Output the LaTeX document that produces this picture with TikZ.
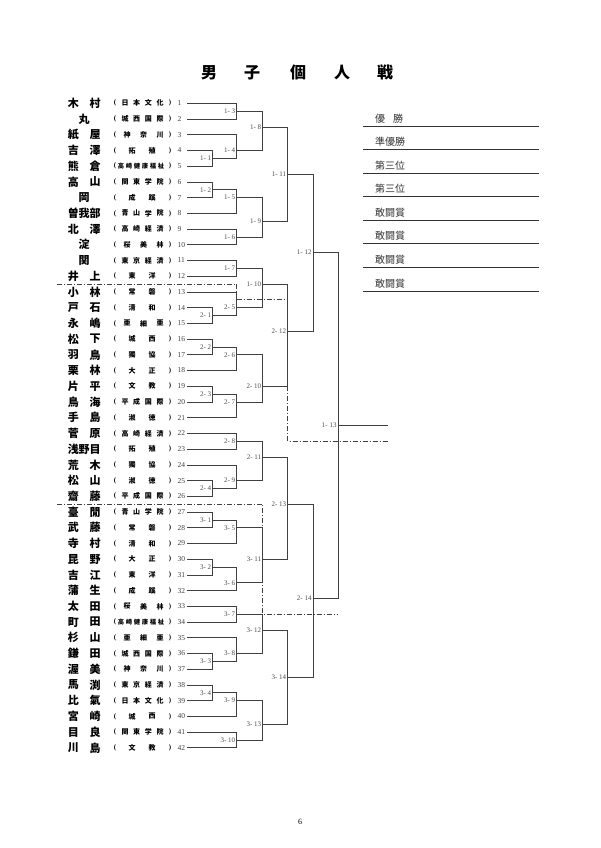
\documentclass[tikz,border=0pt]{standalone}
\usepackage{fontspec}
\setmainfont{Liberation Serif}
\newfontfamily\jp{Noto Sans CJK JP}
\tikzset{
  nm/.style={inner sep=0pt, font={\jp\bfseries\fontsize{11pt}{11pt}\selectfont}},
  sc/.style={inner sep=0pt, font={\jp\bfseries\fontsize{7pt}{7pt}\selectfont}},
  scsix/.style={inner sep=0pt, font={\jp\bfseries\fontsize{6.3pt}{6.3pt}\selectfont}},
  sccur/.style={sc},
  pr/.style={inner sep=0pt, font={\bfseries\fontsize{7pt}{7pt}\selectfont}},
  num/.style={inner sep=0pt, anchor=west, text=black!75, font={\fontsize{7.5pt}{7.5pt}\selectfont}},
  lbl/.style={inner sep=1.3pt, anchor=east, text=black!70, font={\fontsize{7pt}{7pt}\selectfont}},
  br/.style={draw=black!75, line width=0.7pt},
  dd/.style={draw=black!75, line width=0.7pt, dash pattern=on 5pt off 2pt on 1pt off 2pt},
  rl/.style={draw=black!80, line width=0.8pt},
  rt/.style={inner sep=0pt, anchor=west, text=black!80, font={\jp\fontsize{10pt}{10pt}\selectfont}},
  ttl/.style={inner sep=0pt, font={\jp\bfseries\fontsize{16pt}{16pt}\selectfont}},
}
\newcommand\ent[5]{%
  \ifcase#3\or\def\na{84}\def\nb{84}\or\def\na{73.3}\def\nb{95}\or\def\na{73.3}\def\nb{95}\fi
  \foreach \ch [count=\kk] in {#2} {\pgfmathsetmacro\xx{\na+(\kk-1)*(\nb-\na)/max(#3-1,1)}\node[nm] (n#1x\kk) at (\xx,#1) {\ch};}
  \tikzset{sccur/.style={sc}}%
  \ifcase#5\or\def\sa{143}\def\sb{143}\or\def\sa{132}\def\sb{152}\or\def\sa{127}\def\sb{160}\or\def\sa{125}\def\sb{160}\or\def\sa{121}\def\sb{162}\or\def\sa{121}\def\sb{161}\tikzset{sccur/.style={scsix}}\fi
  \foreach \ch [count=\kk] in {#4} {\pgfmathsetmacro\xx{\sa+(\kk-1)*(\sb-\sa)/max(#5-1,1)}\node[sccur] (s#1x\kk) at (\xx,#1) {\ch};}
  \node[pr] (lp#1) at (115,#1) {(};
  \node[pr] (rp#1) at (170,#1) {)};
  \node[num] (no#1) at (177.5,#1) {#1};
  \coordinate (e#1) at (187,#1);
}
\newcommand\mt[6]{%
  \draw[br] (#3) -- (#3 -| #5) -- (#4 -| #5) -- (#4);
  \path (#5) ++(0,#6) coordinate (m#1n#2);
  \node[lbl] (l#1n#2) at (m#1n#2) {#1- #2};
}
\begin{document}
\begin{tikzpicture}[x=1pt,y=-15.72pt]
\useasboundingbox (0,-5.571) rectangle (600,48.373);
\fill[white] (0,-5.571) rectangle (600,48.373);
% columns
\coordinate (X1) at (212.7,0);
\coordinate (X2) at (236.7,0);
\coordinate (X3) at (262.7,0);
\coordinate (X4) at (287.7,0);
\coordinate (X5) at (313,0);
\coordinate (X6) at (338,0);
\coordinate (F) at (388,0);
% title
\node[ttl] (t1) at (209,-0.947) {男};
\node[ttl] (t2) at (252,-0.947) {子};
\node[ttl] (t3) at (298,-0.947) {個};
\node[ttl] (t4) at (342,-0.947) {人};
\node[ttl] (t5) at (385,-0.947) {戦};
% entries
\ent{1}{木,村}{2}{日,本,文,化}{4}
\ent{2}{丸}{1}{城,西,国,際}{4}
\ent{3}{紙,屋}{2}{神,奈,川}{3}
\ent{4}{吉,澤}{2}{拓,殖}{2}
\ent{5}{熊,倉}{2}{高,崎,健,康,福,祉}{6}
\ent{6}{高,山}{2}{関,東,学,院}{4}
\ent{7}{岡}{1}{成,蹊}{2}
\ent{8}{曽,我,部}{3}{青,山,学,院}{4}
\ent{9}{北,澤}{2}{高,崎,経,済}{4}
\ent{10}{淀}{1}{桜,美,林}{3}
\ent{11}{関}{1}{東,京,経,済}{4}
\ent{12}{井,上}{2}{東,洋}{2}
\ent{13}{小,林}{2}{常,磐}{2}
\ent{14}{戸,石}{2}{清,和}{2}
\ent{15}{永,嶋}{2}{亜,細,亜}{3}
\ent{16}{松,下}{2}{城,西}{2}
\ent{17}{羽,鳥}{2}{獨,協}{2}
\ent{18}{栗,林}{2}{大,正}{2}
\ent{19}{片,平}{2}{文,教}{2}
\ent{20}{鳥,海}{2}{平,成,国,際}{4}
\ent{21}{手,島}{2}{淑,徳}{2}
\ent{22}{菅,原}{2}{高,崎,経,済}{4}
\ent{23}{浅,野,目}{3}{拓,殖}{2}
\ent{24}{荒,木}{2}{獨,協}{2}
\ent{25}{松,山}{2}{淑,徳}{2}
\ent{26}{齋,藤}{2}{平,成,国,際}{4}
\ent{27}{臺,閒}{2}{青,山,学,院}{4}
\ent{28}{武,藤}{2}{常,磐}{2}
\ent{29}{寺,村}{2}{清,和}{2}
\ent{30}{昆,野}{2}{大,正}{2}
\ent{31}{吉,江}{2}{東,洋}{2}
\ent{32}{蒲,生}{2}{成,蹊}{2}
\ent{33}{太,田}{2}{桜,美,林}{3}
\ent{34}{町,田}{2}{高,崎,健,康,福,祉}{6}
\ent{35}{杉,山}{2}{亜,細,亜}{3}
\ent{36}{鎌,田}{2}{城,西,国,際}{4}
\ent{37}{渥,美}{2}{神,奈,川}{3}
\ent{38}{馬,渕}{2}{東,京,経,済}{4}
\ent{39}{比,氣}{2}{日,本,文,化}{4}
\ent{40}{宮,崎}{2}{城,西}{2}
\ent{41}{目,良}{2}{関,東,学,院}{4}
\ent{42}{川,島}{2}{文,教}{2}
% dash-dot block separators
\coordinate (dA) at (57,12.5);
\coordinate (dD) at (57,26.5);
\draw[dd] (dA) -- (X2 |- dA) -- (X2 |- e13);
\path (X2) ++(0,13.5) coordinate (dB1);
\draw[dd] (dB1) -- (dB1 -| X4);
\path (X4) ++(0,19) coordinate (dC1);
\path (X4) ++(0,22.5) coordinate (dC2);
\draw[dd] (dC1) -- (dC2) -- (dC2 -| F);
\path (X3) ++(0,33.5) coordinate (dD2);
\draw[dd] (dD) -- (dD -| X3) -- (dD2) -- (dD2 -| X6);
% bracket
\mt{1}{1}{e4}{e5}{X1}{4.5}
\mt{1}{2}{e6}{e7}{X1}{6.5}
\mt{1}{3}{e1}{e2}{X2}{1.5}
\mt{1}{4}{e3}{m1n1}{X2}{4}
\mt{1}{5}{m1n2}{e8}{X2}{7}
\mt{1}{6}{e9}{e10}{X2}{9.5}
\mt{1}{7}{e11}{e12}{X2}{11.5}
\mt{2}{1}{e14}{e15}{X1}{14.5}
\mt{2}{5}{e13}{m2n1}{X2}{14}
\mt{1}{8}{m1n3}{m1n4}{X3}{2.5}
\mt{1}{9}{m1n5}{m1n6}{X3}{8.5}
\mt{1}{10}{m1n7}{m2n5}{X3}{12.5}
\mt{1}{11}{m1n8}{m1n9}{X4}{5.5}
\mt{2}{2}{e16}{e17}{X1}{16.5}
\mt{2}{6}{m2n2}{e18}{X2}{17}
\mt{2}{3}{e19}{e20}{X1}{19.5}
\mt{2}{7}{m2n3}{e21}{X2}{20}
\mt{2}{10}{m2n6}{m2n7}{X3}{19}
\mt{2}{12}{m1n10}{m2n10}{X4}{15.5}
\mt{1}{12}{m1n11}{m2n12}{X5}{10.5}
\mt{2}{8}{e22}{e23}{X2}{22.5}
\mt{2}{4}{e25}{e26}{X1}{25.5}
\mt{2}{9}{e24}{m2n4}{X2}{25}
\mt{2}{11}{m2n8}{m2n9}{X3}{23.5}
\mt{3}{1}{e27}{e28}{X1}{27.5}
\mt{3}{5}{m3n1}{e29}{X2}{28}
\mt{3}{2}{e30}{e31}{X1}{30.5}
\mt{3}{6}{m3n2}{e32}{X2}{31.5}
\mt{3}{11}{m3n5}{m3n6}{X3}{30}
\mt{2}{13}{m2n11}{m3n11}{X4}{26.5}
\mt{3}{7}{e33}{e34}{X2}{33.5}
\mt{3}{3}{e36}{e37}{X1}{36.5}
\mt{3}{8}{e35}{m3n3}{X2}{36}
\mt{3}{12}{m3n7}{m3n8}{X3}{34.5}
\mt{3}{4}{e38}{e39}{X1}{38.5}
\mt{3}{9}{m3n4}{e40}{X2}{39}
\mt{3}{10}{e41}{e42}{X2}{41.5}
\mt{3}{13}{m3n9}{m3n10}{X3}{40.5}
\mt{3}{14}{m3n12}{m3n13}{X4}{37.5}
\mt{2}{14}{m2n13}{m3n14}{X5}{32.5}
\mt{1}{13}{m1n12}{m2n14}{X6}{21.5}
\draw[br] (m1n13) -- (m1n13 -| F);
% results
\foreach \t [count=\k] in {{優\hspace{8pt}勝},準優勝,第三位,第三位,敢闘賞,敢闘賞,敢闘賞,敢闘賞} {
  \pgfmathsetmacro\ry{2.444+(\k-1)*1.5}
  \coordinate (ra\k) at (363,\ry);
  \coordinate (rb\k) at (539,\ry);
  \draw[rl] (ra\k) -- (rb\k);
  \node[rt] (rt\k) at (375,\ry-0.49) {\t};
}
% page number
\node[inner sep=0pt, font={\fontsize{8pt}{8pt}\selectfont}] (pg) at (300,46.72) {6};
\end{tikzpicture}
\end{document}
